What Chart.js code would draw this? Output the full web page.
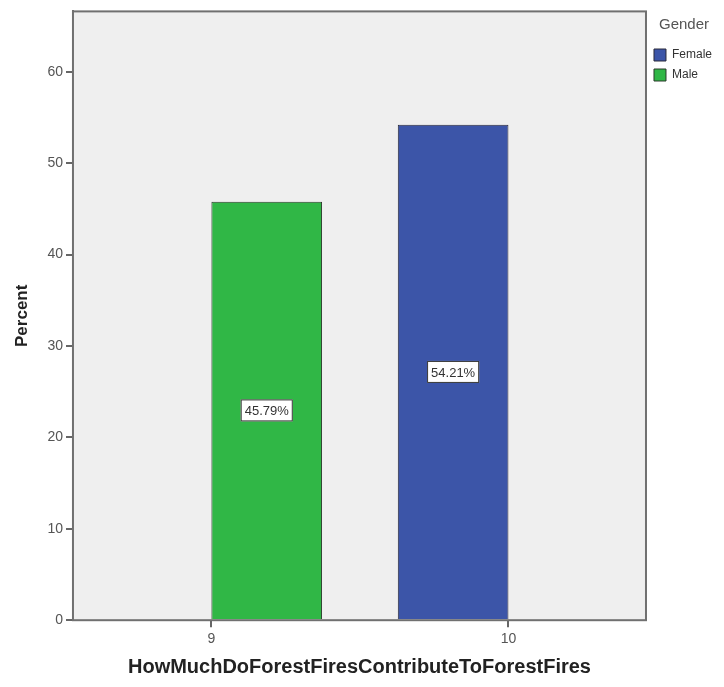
<!DOCTYPE html>
<html>
<head>
<meta charset="utf-8">
<title>Percent by HowMuchDoForestFiresContributeToForestFires</title>
<script src="https://cdn.jsdelivr.net/npm/chart.js/dist/chart.umd.min.js"></script>
<style>
  body { margin: 0; background: #fff; }
  #chart { display: block; }
</style>
</head>
<body>
<canvas id="chart" width="724" height="687"></canvas>
<script>
// categories on the x axis (answer value)
const categories = [9, 10];
// percent of respondents by gender
const femaleValues = [null, 54.21];
const maleValues = [45.79, null];
const seriesNames = ['Female', 'Male'];
const yTicks = [0, 10, 20, 30, 40, 50, 60];

// grey plot box behind the bars
const plotBox = {
  id: 'plotBox',
  beforeDatasetsDraw(chart) {
    const a = chart.chartArea, ctx = chart.ctx;
    ctx.save();
    ctx.fillStyle = '#efefef';
    ctx.fillRect(a.left, a.top, a.right - a.left, a.bottom - a.top);
    ctx.restore();
  },
  afterDatasetsDraw(chart) {
    const a = chart.chartArea, ctx = chart.ctx;
    ctx.save();
    ctx.strokeStyle = '#707070';
    ctx.lineWidth = 2;
    ctx.strokeRect(a.left, a.top, a.right - a.left, a.bottom - a.top);
    ctx.restore();
  }
};

// boxed percent labels in the middle of each bar
const barLabels = {
  id: 'barLabels',
  afterDraw(chart) {
    const ctx = chart.ctx;
    ctx.save();
    ctx.font = '13px Arial, "Liberation Sans", sans-serif';
    ctx.textAlign = 'center';
    ctx.textBaseline = 'middle';
    chart.data.datasets.forEach((ds, i) => {
      chart.getDatasetMeta(i).data.forEach((bar, j) => {
        const v = ds.data[j].y;
        if (v == null) return;
        const p = bar.getProps(['x', 'y', 'base'], true);
        const cy = (p.y + p.base) / 2;
        const txt = v.toFixed(2) + '%';
        const w = ctx.measureText(txt).width + 8;
        ctx.fillStyle = '#fff';
        ctx.fillRect(p.x - w / 2, cy - 11, w, 22);
        ctx.strokeStyle = '#333';
        ctx.lineWidth = 1;
        ctx.strokeRect(p.x - w / 2 + 0.5, cy - 10.5, w - 1, 21);
        ctx.fillStyle = '#333';
        ctx.fillText(txt, p.x, cy + 1);
      });
    });
    ctx.restore();
  }
};

const ctx = document.getElementById('chart').getContext('2d');
new Chart(ctx, {
  type: 'bar',
  data: {
    datasets: [{
      label: seriesNames[0],
      data: categories.map((c, i) => ({ x: c, y: femaleValues[i] })),
      backgroundColor: '#3c55a8',
      borderColor: '#2a2a3a',
      borderWidth: 1
    }, {
      label: seriesNames[1],
      data: categories.map((c, i) => ({ x: c, y: maleValues[i] })),
      backgroundColor: '#30b746',
      borderColor: '#2a3a2a',
      borderWidth: 1
    }]
  },
  options: {
    responsive: false,
    animation: false,
    barPercentage: 1,
    categoryPercentage: 0.745,
    layout: { padding: { top: 2, right: 2, bottom: 8, left: 12 } },
    plugins: {
      tooltip: { enabled: false },
      legend: {
        position: 'right',
        align: 'start',
        title: {
          display: true,
          text: 'Gender',
          color: '#555',
          font: { family: 'Arial, "Liberation Sans", sans-serif', size: 15 },
          padding: { top: 15, bottom: 6 }
        },
        labels: {
          boxWidth: 12,
          boxHeight: 12,
          padding: 8,
          color: '#333',
          font: { family: 'Arial, "Liberation Sans", sans-serif', size: 12 }
        }
      }
    },
    scales: {
      x: {
        type: 'linear',
        offset: false,
        min: 8.534,
        max: 10.463,
        afterBuildTicks: s => { s.ticks = categories.map(v => ({ value: v })); },
        grid: { offset: false, drawOnChartArea: false, drawTicks: true, tickLength: 7, color: '#666', lineWidth: 2 },
        border: { color: '#707070', width: 2 },
        ticks: { color: '#555', padding: 4, font: { family: 'Arial, "Liberation Sans", sans-serif', size: 14 } },
        title: {
          display: true,
          text: 'HowMuchDoForestFiresContributeToForestFires',
          color: '#222',
          padding: { top: 3, bottom: 0 },
          font: { family: 'Arial, "Liberation Sans", sans-serif', size: 20, weight: 'bold' }
        }
      },
      y: {
        min: 0,
        max: 66.6,
        afterBuildTicks: s => { s.ticks = yTicks.map(v => ({ value: v })); },
        grid: { drawOnChartArea: false, drawTicks: true, tickLength: 7, color: '#666', lineWidth: 2 },
        border: { color: '#707070', width: 2 },
        ticks: { color: '#555', padding: 3, font: { family: 'Arial, "Liberation Sans", sans-serif', size: 14 } },
        title: {
          display: true,
          text: 'Percent',
          color: '#222',
          padding: { top: 0, bottom: 12 },
          font: { family: 'Arial, "Liberation Sans", sans-serif', size: 17, weight: 'bold' }
        }
      }
    }
  },
  plugins: [plotBox, barLabels]
});
</script>
</body>
</html>
